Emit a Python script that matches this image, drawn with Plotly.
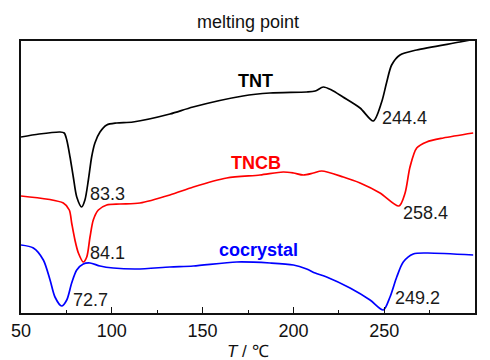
import plotly.graph_objects as go

# Temperature (°C) and heat-flow (arbitrary units, offset curves)
tnt_T = [50, 60, 71.5, 73.8, 75.2, 77, 78.8, 80.7, 83.4, 85.2, 87.1, 88.9, 90.7, 93.5, 97.2,
         102.7, 111.7, 132, 144.7, 172.2, 187.1, 207.3, 212, 216.5, 221, 227.3, 236.7, 244,
         248.6, 251.4, 254.1, 258.7, 267.9, 291.7, 300]
tnt_Q = [176, 179, 181, 180, 173, 156, 136, 116, 106, 113, 133, 156, 170, 181, 188,
         190, 191, 199, 206, 217, 220, 221, 222, 226, 223, 216, 205, 192,
         211, 231, 248, 258, 263, 271, 274]

tncb_T = [50, 73.3, 76.6, 77.9, 79.7, 81.6, 84.3, 86.2, 88, 89.8, 92.6, 97.2, 104.5, 115.5,
          132, 144.9, 163.3, 181.6, 194.4, 200, 205.5, 211, 215.6, 227.5, 236.7, 247.7,
          258.1, 261.5, 264.2, 267.9, 273.4, 282.5, 299]
tncb_Q = [117, 110, 103, 90, 73, 60, 51, 56, 76, 93, 103, 108, 109, 110,
          118, 126, 135, 138, 141, 140, 138, 140, 142, 136, 130, 120,
          107, 120, 146, 165, 171, 175, 180]

co_T = [50, 56.8, 62.3, 66, 68.7, 72.4, 75.2, 77.9, 80.7, 84.3, 88, 93.5, 100.8, 113.7, 132,
        144.9, 168.8, 187.1, 200, 207.3, 212, 218.3, 231.2, 242.2, 249.5, 253.2, 256.9,
        260.5, 266, 273.4, 299]
co_Q = [68, 65, 53, 33, 16, 7, 13, 30, 43, 49, 50, 47, 45, 44, 46,
        47, 51, 50, 48, 44, 40, 36, 25, 13, 3, 16, 36,
        51, 59, 60, 58]

x_ticks = [50, 100, 150, 200, 250, 300]

name_labels = ["TNT", "TNCB", "cocrystal"]
name_T = [178.9, 179.6, 180.8]
name_Q = [232, 150.5, 63]

peak_labels = ["83.3", "84.1", "72.7", "244.4", "258.4", "249.2"]
peak_T = [97.6, 97.6, 88, 261.4, 272.5, 268.4]
peak_Q = [119, 60.5, 13, 194.7, 99.7, 14.7]

colors = ["#000000", "#ff0000", "#0000ff"]

fig = go.Figure()
for T, Q, c, n in [(tnt_T, tnt_Q, colors[0], "TNT"),
                   (tncb_T, tncb_Q, colors[1], "TNCB"),
                   (co_T, co_Q, colors[2], "cocrystal")]:
    fig.add_trace(go.Scatter(x=T, y=Q, mode="lines", name=n,
                             line=dict(color=c, width=1.7, shape="spline", smoothing=0.8)))

for txt, t, q, c in zip(name_labels, name_T, name_Q, colors):
    fig.add_annotation(x=t, y=q, text="<b>%s</b>" % txt, showarrow=False,
                       font=dict(size=18, color=c, family="Liberation Sans, Arial"),
                       xanchor="center", yanchor="middle")

for txt, t, q in zip(peak_labels, peak_T, peak_Q):
    fig.add_annotation(x=t, y=q, text=txt, showarrow=False,
                       font=dict(size=18, color="#1a1a1a", family="Liberation Sans, Arial"),
                       xanchor="center", yanchor="middle")

fig.add_annotation(xref="paper", yref="paper", x=0.5, y=1.07, text="melting point",
                   showarrow=False, font=dict(size=18, color="#111", family="Liberation Sans, Arial"),
                   xanchor="center", yanchor="middle")
fig.add_annotation(xref="paper", yref="paper", x=0.5, y=-0.14, text="<i>T</i> / ℃",
                   showarrow=False, font=dict(size=17, color="#111", family="Liberation Sans, Arial"),
                   xanchor="center", yanchor="middle")

fig.update_layout(
    width=490, height=360,
    margin=dict(l=21, r=15, t=41, b=47),
    paper_bgcolor="white", plot_bgcolor="white",
    showlegend=False,
    font=dict(family="Liberation Sans, Arial", size=18, color="#111"),
)
fig.update_xaxes(range=[50, 300], tickvals=x_ticks, ticks="inside", ticklen=6, tickwidth=1.3,
                 tickcolor="#111", showline=True, linecolor="#111", linewidth=1.8, mirror=True,
                 showgrid=False, zeroline=False, tickfont=dict(size=18, color="#111"),
                 minor=dict(ticks="inside", ticklen=3, dtick=25, tickcolor="#111", tickwidth=1.2))
fig.update_yaxes(range=[0, 272], showticklabels=False, ticks="", showline=True, linecolor="#111",
                 linewidth=1.8, mirror=True, showgrid=False, zeroline=False)

fig.write_html("out.html")
